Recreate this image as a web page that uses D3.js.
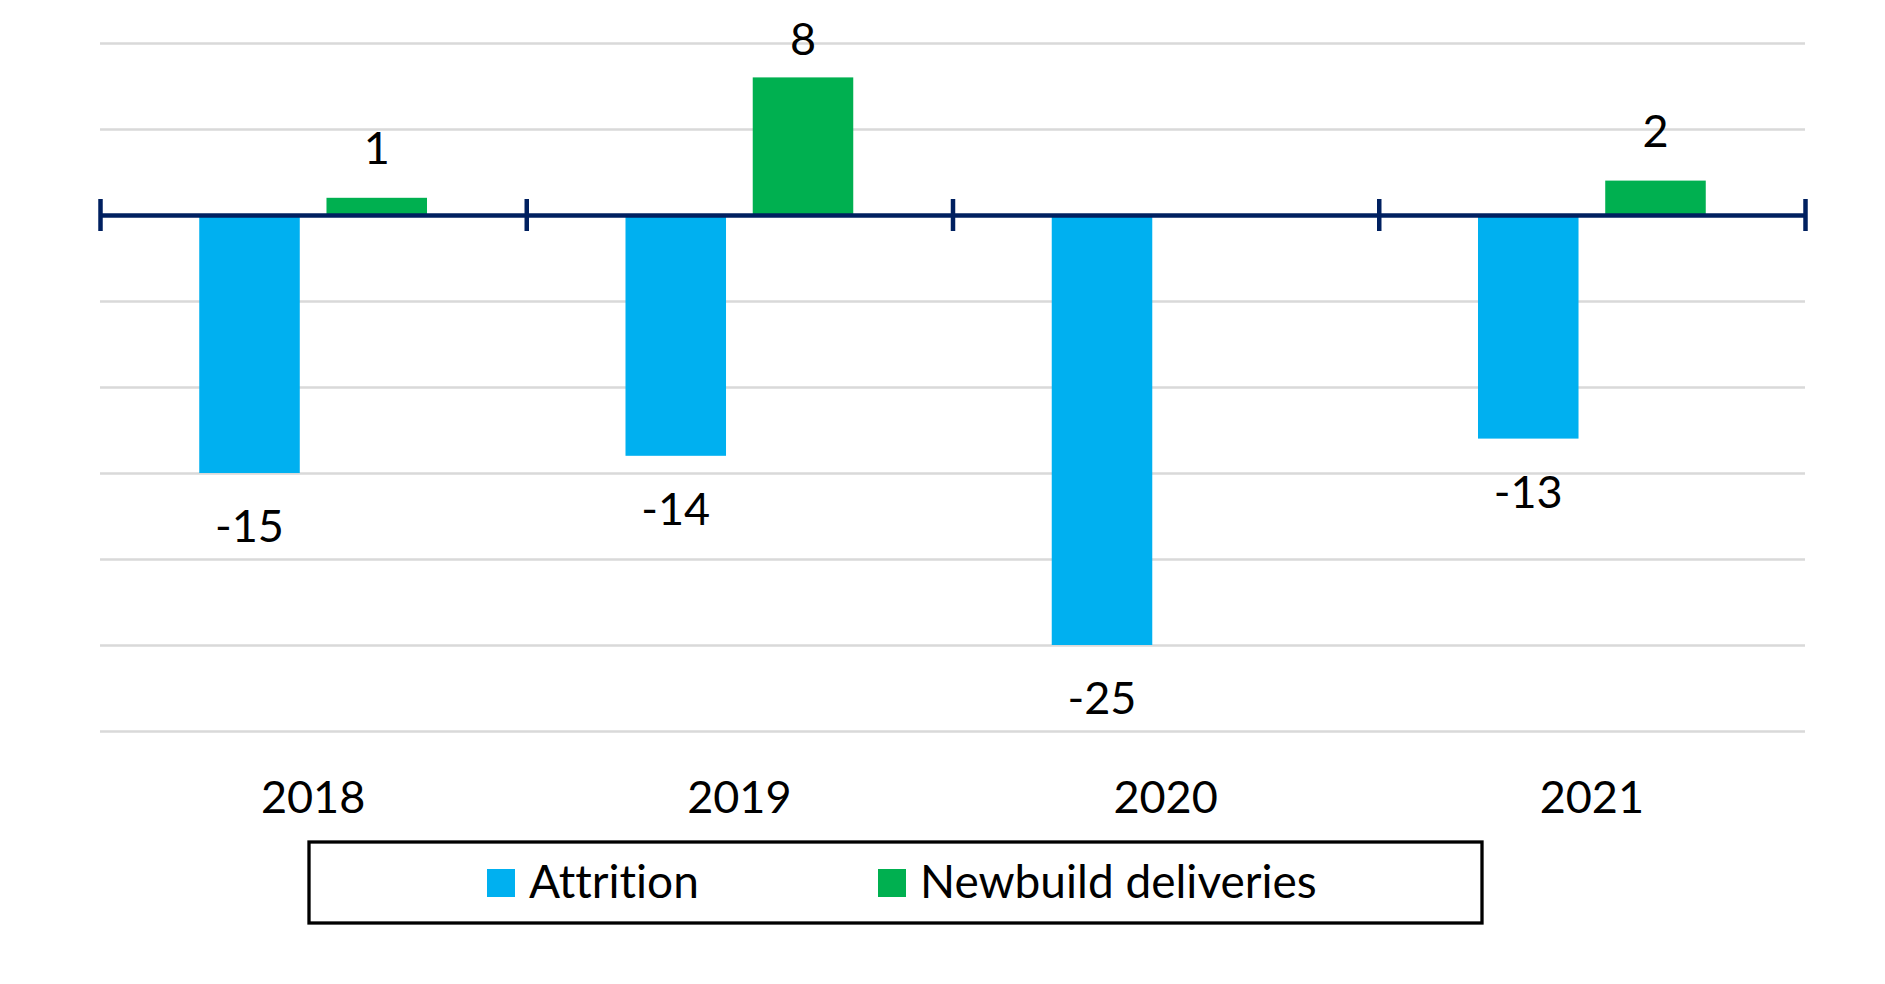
<!DOCTYPE html>
<html>
<head>
<meta charset="utf-8">
<script src="https://cdn.jsdelivr.net/npm/d3@7"></script>
<style>
  body { margin: 0; background: #fff; }
  text { font-family: Lato, "Liberation Sans", sans-serif; fill: #000; font-variant-ligatures: none; }
</style>
</head>
<body>
<div id="chart"></div>
<script>
// chart data
var categories = ["2018", "2019", "2020", "2021"];
var attrition = [-15, -14, -25, -13];
var newbuild = [1, 8, null, 2];
var seriesNames = ["Attrition", "Newbuild deliveries"];
var seriesColors = ["#00B0F0", "#00B050"];
var yTicks = [-30, -25, -20, -15, -10, -5, 0, 5, 10];

var width = 1885,
    height = 984,
    margin = {top: 43, right: 80, bottom: 253, left: 100};

var plotW = width - margin.left - margin.right,
    plotH = height - margin.top - margin.bottom;

var svg = d3.select('#chart')
  .append('svg')
  .attr('width', width)
  .attr('height', height);

var g = svg.append('g')
  .attr('transform', 'translate(' + margin.left + ',' + margin.top + ')');

var x = d3.scaleBand()
  .domain(categories)
  .range([0, plotW])
  .padding(0);

var xSeries = d3.scaleBand()
  .domain(seriesNames)
  .range([0, x.bandwidth()])
  .paddingInner(0.21)
  .paddingOuter(0.78);

var y = d3.scaleLinear()
  .domain([-30, 10])
  .range([plotH, 0]);

// gridlines
var grid = g.append('g')
  .call(d3.axisLeft(y).tickValues(yTicks).tickSize(-plotW).tickFormat(''));
grid.select('.domain').remove();
grid.selectAll('line')
  .attr('stroke', '#d9d9d9')
  .attr('stroke-width', 2.5);

// one row per category/series pair
var rows = [];
categories.forEach(function (c, i) {
  rows.push({cat: c, series: seriesNames[0], value: attrition[i], color: seriesColors[0]});
  if (newbuild[i] != null) {
    rows.push({cat: c, series: seriesNames[1], value: newbuild[i], color: seriesColors[1]});
  }
});

g.selectAll('rect.bar').data(rows)
  .enter().append('rect')
  .attr('class', 'bar')
  .attr('fill', function (d) { return d.color; })
  .attr('x', function (d) { return x(d.cat) + xSeries(d.series); })
  .attr('width', xSeries.bandwidth())
  .attr('y', function (d) { return y(Math.max(0, d.value)); })
  .attr('height', function (d) { return Math.abs(y(d.value) - y(0)); });

// data labels
g.selectAll('text.lbl').data(rows)
  .enter().append('text')
  .attr('class', 'lbl')
  .attr('text-anchor', 'middle')
  .style('font-size', '45px')
  .attr('x', function (d) { return x(d.cat) + xSeries(d.series) + xSeries.bandwidth() / 2; })
  .attr('y', function (d) {
    if (d.value >= 0) return Math.max(y(d.value) - 34, 12);
    return y(d.value) + 69;
  })
  .text(function (d) { return d.value; });

// horizontal axis with crossing tick marks at category boundaries
var edge = d3.scaleLinear().domain([0, categories.length]).range([0, plotW]);
var axis = g.append('g')
  .attr('transform', 'translate(0,' + y(0) + ')')
  .call(d3.axisBottom(edge).tickValues(d3.range(categories.length + 1)).tickSize(16).tickSizeOuter(0).tickFormat(''));
axis.select('.domain')
  .attr('stroke', '#002060')
  .attr('stroke-width', 4.5);
axis.selectAll('.tick line')
  .attr('stroke', '#002060')
  .attr('stroke-width', 4.5)
  .attr('y1', -16);

// category labels
g.selectAll('text.cat').data(categories)
  .enter().append('text')
  .attr('class', 'cat')
  .attr('text-anchor', 'middle')
  .style('font-size', '45px')
  .attr('x', function (d) { return x(d) + x.bandwidth() / 2; })
  .attr('y', plotH + 82)
  .text(function (d) { return d; });

// legend
var legend = svg.append('g').attr('transform', 'translate(309,842)');
legend.append('rect')
  .attr('width', 1173)
  .attr('height', 81)
  .attr('fill', 'none')
  .attr('stroke', '#000')
  .attr('stroke-width', 3.3);

var legendX = [178, 569];
var items = legend.selectAll('g.item').data(seriesNames)
  .enter().append('g')
  .attr('class', 'item')
  .attr('transform', function (d, i) { return 'translate(' + legendX[i] + ',0)'; });
items.append('rect')
  .attr('y', 27)
  .attr('width', 28)
  .attr('height', 28)
  .attr('fill', function (d, i) { return seriesColors[i]; });
items.append('text')
  .attr('x', 42)
  .attr('y', 56)
  .style('font-size', '46px')
  .text(function (d) { return d; });
</script>
</body>
</html>
